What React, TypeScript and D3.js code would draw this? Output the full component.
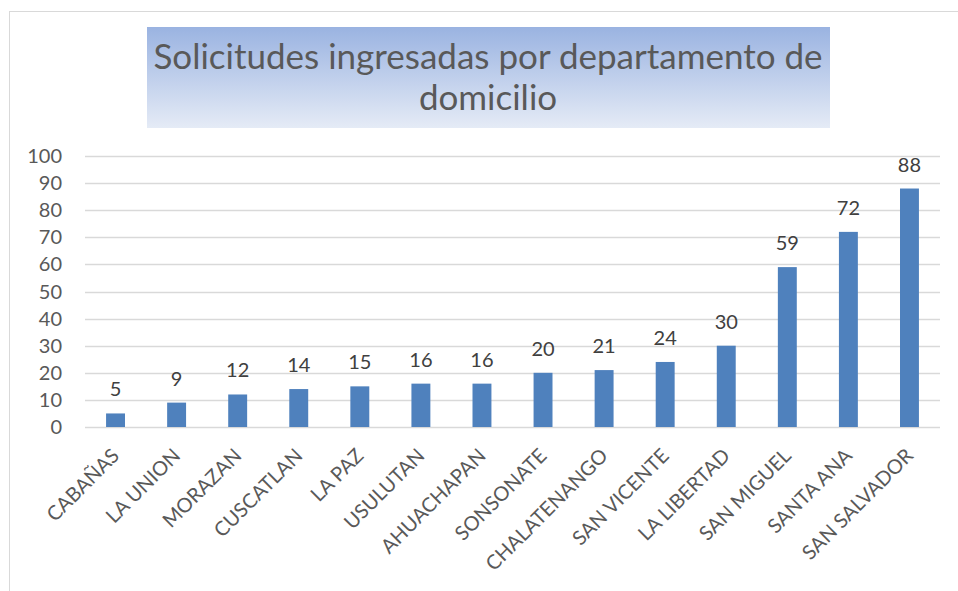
import React from "react";
import * as d3 from "d3";

const categories = ["CABAÑAS","LA UNION","MORAZAN","CUSCATLAN","LA PAZ","USULUTAN","AHUACHAPAN","SONSONATE","CHALATENANGO","SAN VICENTE","LA LIBERTAD","SAN MIGUEL","SANTA ANA","SAN SALVADOR"];
const values = [5,9,12,14,15,16,16,20,21,24,30,59,72,88];
const yTicks = [0,10,20,30,40,50,60,70,80,90,100];
const titleLines = ["Solicitudes ingresadas por departamento de","domicilio"];

const W = 958, H = 591;
const FONT = "Lato, 'Open Sans', sans-serif";

export default function App() {
  const x = d3.scaleBand<string>().domain(categories).range([85, 940]).paddingInner(0.69).paddingOuter(0.345);
  const y = d3.scaleLinear().domain([0, 100]).range([427, 156]);
  return (
    <svg width={W} height={H} style={{ position: "absolute", left: 0, top: 0, background: "#fff" }}>
      <defs>
        <linearGradient id="tg" x1="0" y1="0" x2="0" y2="1">
          <stop offset="0" stopColor="#9ab3e1" />
          <stop offset="1" stopColor="#e5ebf6" />
        </linearGradient>
      </defs>
      <rect x={9.5} y={11.5} width={W + 10} height={H + 10} fill="#fff" stroke="#d9d9d9" strokeWidth={1} />
      <rect x={147} y={27} width={683} height={101} fill="url(#tg)" />
      {titleLines.map((t, i) => (
        <text key={i} x={488} y={69 + i * 41} textAnchor="middle" fontFamily={FONT} fontSize={35} fill="#595959">{t}</text>
      ))}
      {yTicks.map(t => (
        <g key={t}>
          <line x1={85} x2={940} y1={Math.round(y(t)) + 0.5} y2={Math.round(y(t)) + 0.5} stroke="#d9d9d9" strokeWidth={1.5} />
          <text x={62} y={y(t) + 7} textAnchor="end" fontFamily={FONT} fontSize={20} fill="#595959">{t}</text>
        </g>
      ))}
      {categories.map((c, i) => {
        const bx = x(c)!;
        const cx = bx + x.bandwidth() / 2;
        return (
          <g key={c}>
            <rect x={bx} y={y(values[i])} width={x.bandwidth()} height={y(0) - y(values[i])} fill="#4f81bd" />
            <text x={cx} y={y(values[i]) - 17} textAnchor="middle" fontFamily={FONT} fontSize={20} fill="#404040">{values[i]}</text>
            <text transform={`translate(${cx + 5},${457}) rotate(-45)`} textAnchor="end" fontFamily={FONT} fontSize={20} fill="#595959">{c}</text>
          </g>
        );
      })}
    </svg>
  );
}
